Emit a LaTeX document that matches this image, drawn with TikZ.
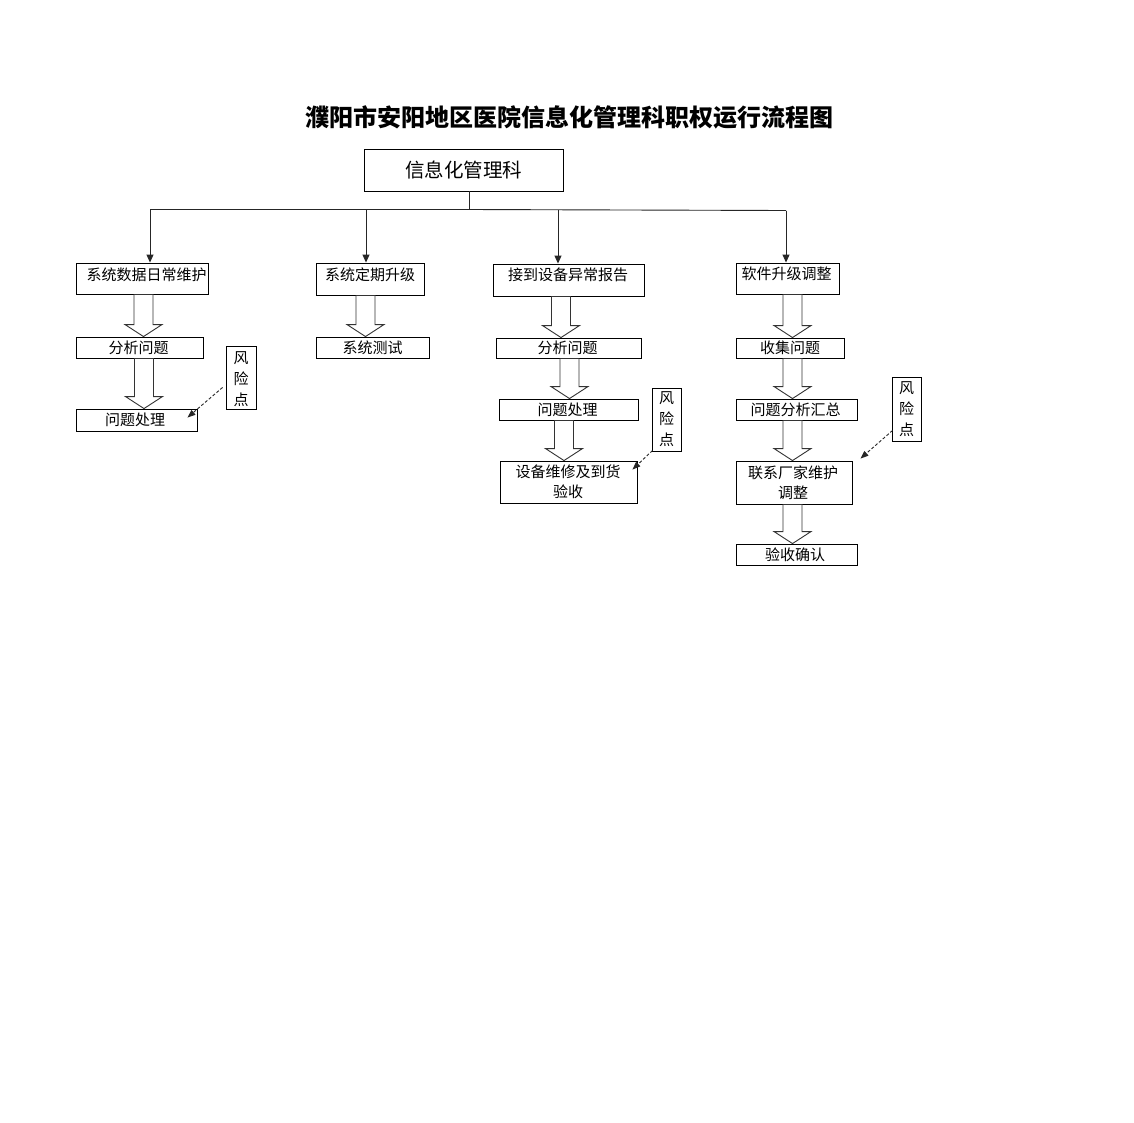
\documentclass[tikz,border=0pt]{standalone}
\usepackage{fontspec}
\newfontfamily\cjk{Noto Sans CJK SC}
\usetikzlibrary{calc,arrows.meta}
\tikzset{
  box/.style={draw, line width=0.9pt, inner sep=0pt},
  txt/.style={inner sep=0pt, align=center, font=\cjk\fontsize{15}{20}\selectfont},
  risk/.style={inner sep=0pt, align=center, font=\cjk\fontsize{15}{21}\selectfont},
  conn/.style={line width=0.9pt, draw=black!85},
  arr/.style={conn, -{Triangle[length=8pt,width=7pt]}},
  hollow/.style={draw=black!80, line width=0.9pt, fill=white, line join=miter},
  riskarr/.style={line width=0.9pt, draw=black!85, dash pattern=on 3pt off 2pt, -{Triangle[length=8pt,width=6pt]}}
}
\newcommand\bx[5]{\node[box, minimum width={#4-#2}, minimum height={#5-#3}] (#1) at ({(#2+#4)/2},{(#3+#5)/2}) {};}
\newcommand\harrow[3]{%
  \draw[hollow] let \p1=(#1.south), \p2=(#2.north) in
   (\x1+#3pt-9.5pt,\y1) -- (\x1+#3pt-9.5pt,\y2+12pt) -- (\x1+#3pt-18.5pt,\y2+12pt) --
   (\x1+#3pt,\y2) -- (\x1+#3pt+18.5pt,\y2+12pt) -- (\x1+#3pt+9.5pt,\y2+12pt) --
   (\x1+#3pt+9.5pt,\y1) -- cycle;}
\begin{document}
\begin{tikzpicture}[x=1pt,y=-1pt]
\useasboundingbox[fill=white] (0,0) rectangle (1134,1122);

% title
\node[inner sep=0pt, font=\cjk\bfseries\fontsize{24}{28}\selectfont] (title) at (569,117) {濮阳市安阳地区医院信息化管理科职权运行流程图};

% header
\bx{hdr}{364}{149}{563}{191}
\node[inner sep=0pt, font=\cjk\fontsize{19.5}{24}\selectfont] (hdr-t) at (463.5,170) {信息化管理科};

% first-level boxes
\bx{b1}{76}{263}{208}{294}
\node[txt] (b1-t) at (146.5,275) {系统数据日常维护};
\bx{b2}{316}{263}{424}{295}
\node[txt] (b2-t) at (370,275) {系统定期升级};
\bx{b3}{493}{264}{644}{296}
\node[txt] (b3-t) at (568,274.5) {接到设备异常报告};
\bx{b4}{736}{263}{839}{294}
\node[txt] (b4-t) at (786.5,274) {软件升级调整};

% column 1
\bx{c1a}{76}{337}{203}{358}
\node[txt] (c1a-t) at (138.5,347.5) {分析问题};
\bx{c1b}{76}{409}{197}{431}
\node[txt] (c1b-t) at (135,420) {问题处理};
\bx{r1}{226}{346}{256}{409}
\node[risk] (r1-t) at (241,379) {风\\险\\点};

% column 2
\bx{c2a}{316}{337}{429}{358}
\node[txt] (c2a-t) at (372.5,347.5) {系统测试};

% column 3
\bx{c3a}{496}{338}{641}{358}
\node[txt] (c3a-t) at (567.5,348) {分析问题};
\bx{c3b}{499}{399}{638}{420}
\node[txt] (c3b-t) at (567.5,409.5) {问题处理};
\bx{c3c}{500}{461}{637}{503}
\node[txt] (c3c-t) at (568,482) {设备维修及到货\\验收};
\bx{r3}{652}{388}{681}{451}
\node[risk] (r3-t) at (666.5,419.5) {风\\险\\点};

% column 4
\bx{c4a}{736}{338}{844}{358}
\node[txt] (c4a-t) at (790,348) {收集问题};
\bx{c4b}{736}{399}{857}{420}
\node[txt] (c4b-t) at (795.5,409.5) {问题分析汇总};
\bx{c4c}{736}{461}{852}{504}
\node[txt] (c4c-t) at (793,482.5) {联系厂家维护\\调整};
\bx{c4d}{736}{544}{857}{565}
\node[txt] (c4d-t) at (795,554.5) {验收确认};
\bx{r4}{892}{377}{921}{441}
\node[risk] (r4-t) at (906.5,409) {风\\险\\点};

% bus connectors
\coordinate (j) at (469,209.5);
\coordinate (k1) at (150,209.5);
\coordinate (k2) at (366,209.5);
\coordinate (k3) at (558,210);
\coordinate (k4) at (786,210.5);
\draw[conn] (hdr.south -| j) -- (j);
\draw[conn] (k1) -- (j) -- (k4);
\draw[arr] (k1) -- (k1 |- b1.north);
\draw[arr] (k2) -- (k2 |- b2.north);
\draw[arr] (k3) -- (k3 |- b3.north);
\draw[arr] (k4) -- (k4 |- b4.north);

% hollow arrows
\harrow{b1}{c1a}{1.5}
\harrow{c1a}{c1b}{4.5}
\harrow{b2}{c2a}{-4.5}
\harrow{b3}{c3a}{-7.5}
\harrow{c3a}{c3b}{1}
\harrow{c3b}{c3c}{-4.5}
\harrow{b4}{c4a}{5}
\harrow{c4a}{c4b}{2.5}
\harrow{c4b}{c4c}{-4}
\harrow{c4c}{c4d}{-1.5}

% risk arrows
\draw[riskarr] ($(r1.south west)+(-3,-22)$) -- ($(c1b.north east)+(-10,9)$);
\draw[riskarr] ($(r3.south west)+(1,-1)$) -- ($(c3c.north east)+(-5,9)$);
\draw[riskarr] ($(r4.south west)+(1,-11)$) -- ($(c4c.north east)+(8,-2)$);
\end{tikzpicture}
\end{document}
